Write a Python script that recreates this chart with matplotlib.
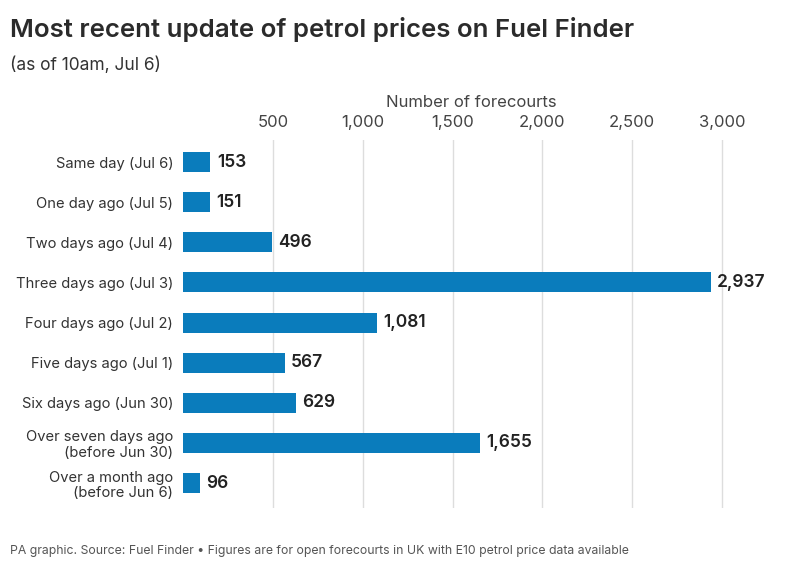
import matplotlib.pyplot as plt

plt.rcParams['font.family'] = ['Inter', 'DejaVu Sans']

categories = ["Same day (Jul 6)", "One day ago (Jul 5)", "Two days ago (Jul 4)",
              "Three days ago (Jul 3)", "Four days ago (Jul 2)", "Five days ago (Jul 1)",
              "Six days ago (Jun 30)", "Over seven days ago\n(before Jun 30)",
              "Over a month ago\n(before Jun 6)"]
counts = [153, 151, 496, 2937, 1081, 567, 629, 1655, 96]
ticks = [500, 1000, 1500, 2000, 2500, 3000]
tick_labels = ["500", "1,000", "1,500", "2,000", "2,500", "3,000"]

W, H = 794, 575
fig = plt.figure(figsize=(W / 100, H / 100), dpi=100)
# axes box in pixels: left 183, right 760, top 140, bottom 508
ax = fig.add_axes([183 / W, 1 - 508 / H, (760 - 183) / W, (508 - 140) / H])

y = list(range(len(categories)))
ax.barh(y, counts, height=0.5, color='#0a7cbc', zorder=3)
ax.set_ylim(8.62, -0.55)
ax.set_xlim(0, 3211)

ax.set_xticks(ticks)
ax.set_xticklabels(tick_labels)
ax.xaxis.tick_top()
ax.xaxis.set_label_position('top')
ax.tick_params(axis='x', length=0, pad=7, labelsize=12, labelcolor='#444444')
ax.set_xlabel("Number of forecourts", fontsize=12, color='#444444', labelpad=6)
ax.grid(axis='x', color='#dddddd', linewidth=1, zorder=0)

ax.set_yticks(y)
ax.set_yticklabels(categories, fontsize=10.6, color='#333333', linespacing=1.15)
ax.tick_params(axis='y', length=0, pad=7)

for s in ax.spines.values():
    s.set_visible(False)

for yi, v in zip(y, counts):
    ax.text(v + 35, yi, f"{v:,}", va='center', ha='left', fontsize=12.5,
            fontweight='semibold', color='#222222')

fig.text(10 / W, 1 - 30 / H, "Most recent update of petrol prices on Fuel Finder",
         fontsize=18.6, fontweight='semibold', color='#2b2b2b', va='center', ha='left')
fig.text(10 / W, 1 - 65 / H, "(as of 10am, Jul 6)", fontsize=12.5, color='#333333',
         va='center', ha='left')
fig.text(10 / W, 1 - 551 / H,
         "PA graphic. Source: Fuel Finder \u2022 Figures are for open forecourts in UK with E10 petrol price data available",
         fontsize=8.8, color='#555555', va='center', ha='left')

fig.savefig("out.png", dpi=100)
